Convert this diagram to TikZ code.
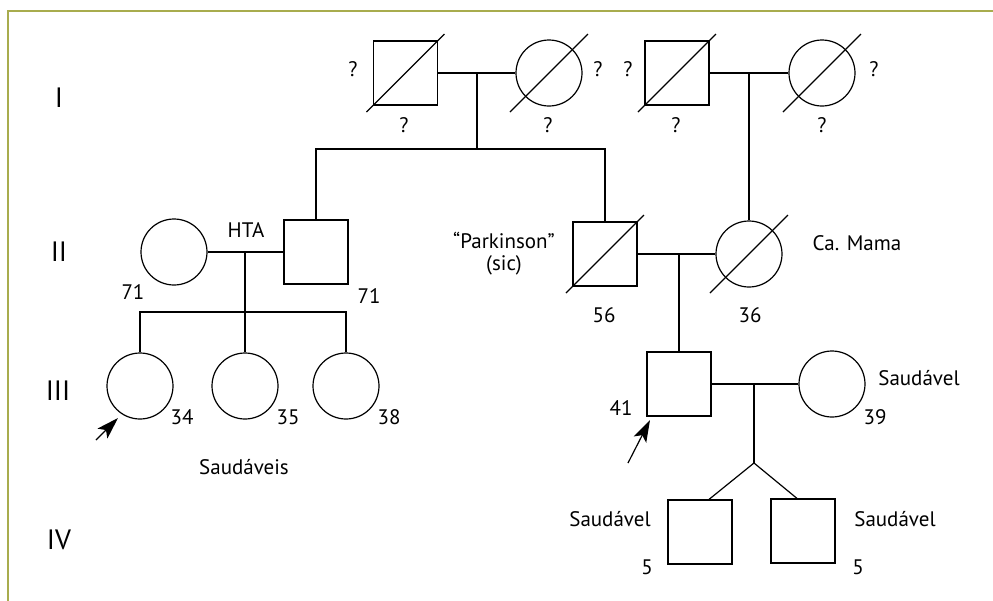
\documentclass[tikz,border=0pt]{standalone}
\usepackage{fontspec}
\setmainfont{PT Sans}
\usetikzlibrary{arrows.meta}
\definecolor{frameolive}{RGB}{168,172,78}
\begin{document}
\begin{tikzpicture}[x=0.5pt,y=-0.5pt,line width=0.6pt,
    male/.style={draw,rectangle,minimum size=32pt,inner sep=0pt},
    female/.style={draw,circle,minimum size=33pt,inner sep=0pt},
    lbl/.style={font=\fontsize{10.5}{11}\selectfont,inner sep=0pt,align=center},
    gen/.style={font=\fontsize{14}{16}\selectfont,inner sep=0pt},
    proband/.style={-{Stealth[length=11pt,width=7pt,inset=2.5pt]}}]
\useasboundingbox (0,0) rectangle (993,601);
\draw[frameolive,line width=1pt] (8,601)--(8,11)--(993,11);

\node[gen] (gI) at (59,98) {I};
\node[gen] (gII) at (59,252) {II};
\node[gen] (gIII) at (58,391) {III};
\node[gen] (gIV) at (59,540) {IV};

\node[male] (gpA) at (405.5,73) {};
\node[female] (gmA) at (549,73) {};
\node[male] (gpB) at (677,73) {};
\node[female] (gmB) at (822,73) {};

\node[female] (wifeU) at (174,252) {};
\node[male] (uncle) at (316,252) {};
\node[male] (park) at (605,254) {};
\node[female] (mama) at (749,254) {};

\node[female] (dA) at (140,386) {};
\node[female] (dB) at (245,386) {};
\node[female] (dC) at (346,386) {};
\node[male] (son) at (679,384) {};
\node[female] (wife) at (832,384) {};

\node[male] (twA) at (700,532) {};
\node[male] (twB) at (803,531) {};

\foreach \d in {gpA,gmA,gpB,gmB,park,mama}
  \draw (\d.center) ++(-39,39) -- ++(78,-78);

\coordinate (mA) at (477,73);
\coordinate (sibA) at (477,149);
\draw (gpA)--(gmA);
\draw (mA)--(sibA);
\draw (uncle) |- (sibA) -| (park);

\coordinate (mB) at (749,73);
\draw (gpB)--(gmB);
\draw (mB)--(mama);

\coordinate (mU) at (245,252);
\coordinate (sibU) at (245,312);
\draw (wifeU)--(uncle);
\draw (mU)--(sibU);
\draw (dA) |- (sibU) -| (dC);
\draw (sibU)--(dB);

\coordinate (mP) at (679,254);
\draw (park)--(mama);
\draw (mP)--(son);

\coordinate (mS) at (754,384);
\coordinate (twin) at (754,463);
\draw (son)--(wife);
\draw (mS)--(twin);
\draw ([xshift=4.5pt]twA.north)--(twin)--([xshift=-3pt]twB.north);

\coordinate (arrA) at (96,440);
\coordinate (tipA) at (118,418);
\draw[proband] (arrA)--(tipA);
\coordinate (arrB) at (628,463);
\coordinate (tipB) at (650,420);
\draw[proband] (arrB)--(tipB);

\node[lbl] (qA1) at (353,69) {?};
\node[lbl] (qA2) at (404,125) {?};
\node[lbl] (qB1) at (598,69) {?};
\node[lbl] (qB2) at (548,125) {?};
\node[lbl] (qC1) at (628,69) {?};
\node[lbl] (qC2) at (676,125) {?};
\node[lbl] (qD1) at (874,69) {?};
\node[lbl] (qD2) at (822,125) {?};

\node[lbl] (hta) at (246,230) {HTA};
\node[lbl] (ageW) at (133,292) {71};
\node[lbl] (ageU) at (369,296) {71};
\node[lbl] (parkTxt) at (504,254) {“Parkinson”\\(sic)};
\node[lbl] (mamaTxt) at (857,243) {Ca. Mama};
\node[lbl] (ageP) at (604,315) {56};
\node[lbl] (ageM) at (750,315) {36};

\node[lbl] (ageA) at (182,417) {34};
\node[lbl] (ageB) at (288,417) {35};
\node[lbl] (ageC) at (389,417) {38};
\node[lbl] (saudaveis) at (244,467) {Saudáveis};
\node[lbl] (ageS) at (621,408) {41};
\node[lbl] (wifeTxt) at (919,378) {Saudável};
\node[lbl] (ageWf) at (875,417) {39};

\node[lbl] (twATxt) at (610,519) {Saudável};
\node[lbl] (twBTxt) at (895,519) {Saudável};
\node[lbl] (ageTA) at (647,567) {5};
\node[lbl] (ageTB) at (858,567) {5};
\end{tikzpicture}
\end{document}
